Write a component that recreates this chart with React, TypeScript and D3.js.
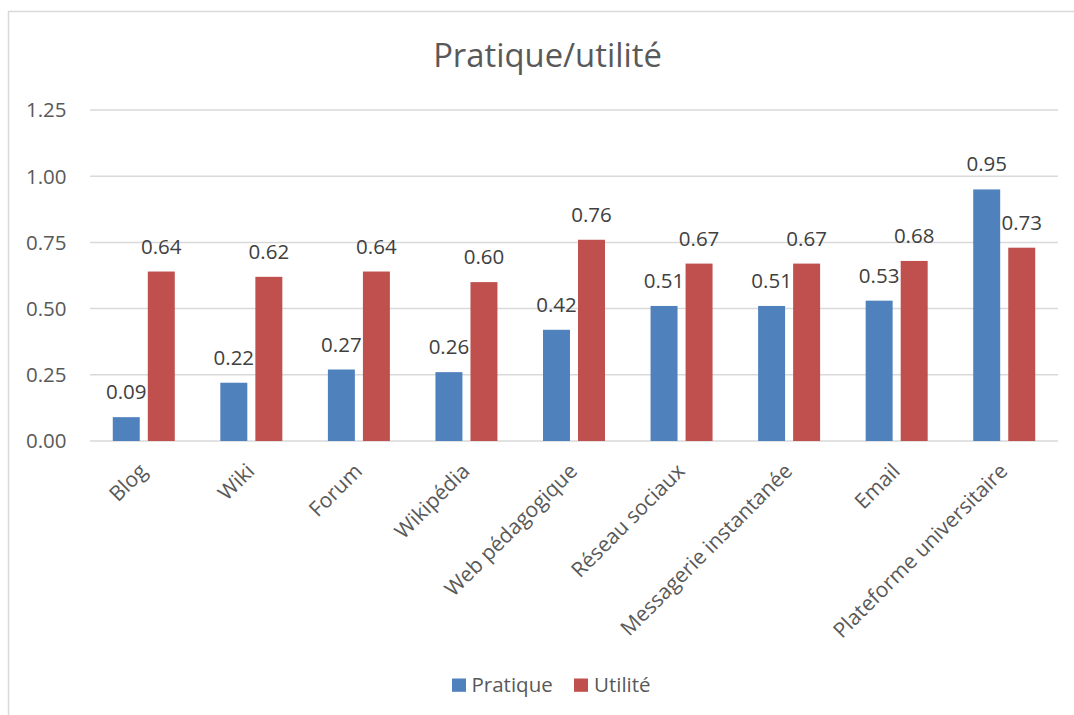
import React from "react";
import * as d3 from "d3";

const categories = [
  "Blog",
  "Wiki",
  "Forum",
  "Wikipédia",
  "Web pédagogique",
  "Réseau sociaux",
  "Messagerie instantanée",
  "Email",
  "Plateforme universitaire",
];
const pratique = [0.09, 0.22, 0.27, 0.26, 0.42, 0.51, 0.51, 0.53, 0.95];
const utilite = [0.64, 0.62, 0.64, 0.6, 0.76, 0.67, 0.67, 0.68, 0.73];
const yTicks = [0, 0.25, 0.5, 0.75, 1.0, 1.25];
const seriesNames = ["Pratique", "Utilité"];
const seriesColors = ["#4f81bd", "#c0504d"];

const W = 1074;
const H = 715;
const FONT = "'Open Sans', 'Noto Sans', sans-serif";

export default function App() {
  const left = 90;
  const right = 1058;
  const top = 110;
  const bottom = 441;

  const x = d3.scaleBand<string>().domain(categories).range([left, right]).paddingInner(0).paddingOuter(0);
  const y = d3.scaleLinear().domain([0, 1.25]).range([bottom, top]);
  const inner = d3.scaleBand<number>().domain([0, 1]).range([-31, 31]).paddingInner(0.23);

  const series = [pratique, utilite];

  const legendItems = [
    { sx: 452, tx: 471.5 },
    { sx: 574, tx: 594 },
  ];

  return (
    <svg
      width={W}
      height={H}
      style={{ position: "absolute", left: 0, top: 0, background: "#fff" }}
      fontFamily={FONT}
    >
      <rect x={0} y={0} width={W} height={H} fill="#fff" />
      {/* frame */}
      <line x1={8.5} y1={11} x2={8.5} y2={H} stroke="#d9d9d9" strokeWidth={1.5} />
      <line x1={8} y1={11.5} x2={W} y2={11.5} stroke="#d9d9d9" strokeWidth={1.5} />

      {/* title */}
      <text x={547.5} y={66.5} textAnchor="middle" fontSize={32.8} fill="#595959">
        Pratique/utilité
      </text>

      {/* gridlines */}
      {yTicks.map((t) => (
        <g key={t}>
          <line x1={left} x2={right} y1={y(t)} y2={y(t)} stroke="#d9d9d9" strokeWidth={1.5} />
          <text x={66.5} y={y(t)} dy="0.36em" textAnchor="end" fontSize={20.5} fill="#595959">
            {t.toFixed(2)}
          </text>
        </g>
      ))}

      {/* bars */}
      {series.map((vals, si) =>
        categories.map((c, i) => {
          const cx = (x(c) as number) + x.bandwidth() / 2;
          const bx = cx + (inner(si) as number);
          const bw = inner.bandwidth();
          return (
            <g key={`${si}-${i}`}>
              <rect
                x={bx}
                y={y(vals[i])}
                width={bw}
                height={bottom - y(vals[i])}
                fill={seriesColors[si]}
              />
              <text
                x={bx + bw / 2}
                y={y(vals[i]) - 18}
                textAnchor="middle"
                fontSize={20.5}
                fill="#404040"
              >
                {vals[i].toFixed(2)}
              </text>
            </g>
          );
        })
      )}

      {/* category labels */}
      {categories.map((c) => {
        const cx = (x(c) as number) + x.bandwidth() / 2;
        return (
          <text
            key={c}
            transform={`translate(${cx + 4.5},${472.5}) rotate(-45)`}
            textAnchor="end"
            fontSize={21}
            fill="#595959"
          >
            {c}
          </text>
        );
      })}

      {/* legend */}
      {seriesNames.map((n, i) => (
        <g key={n}>
          <rect x={legendItems[i].sx} y={678.5} width={14} height={13.3} fill={seriesColors[i]} />
          <text x={legendItems[i].tx} y={691.5} fontSize={20.5} fill="#595959">
            {n}
          </text>
        </g>
      ))}
    </svg>
  );
}
